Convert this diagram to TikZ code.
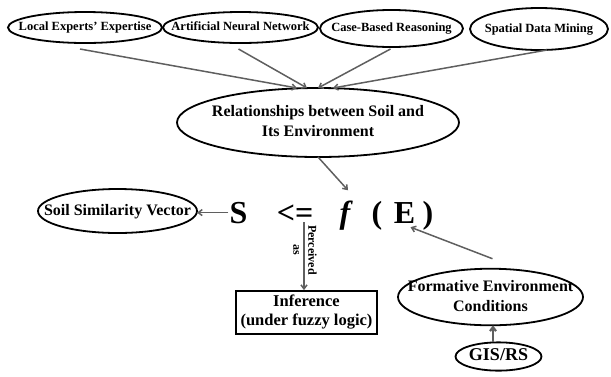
\documentclass[tikz,border=0pt]{standalone}
\usepackage{fontspec}
\setmainfont{Liberation Serif}
\usetikzlibrary{shapes.geometric,arrows.meta}
\definecolor{arrgray}{RGB}{95,95,95}
\newcommand{\zt}[1]{\makebox[0pt]{\begin{tabular}{@{}c@{}}#1\end{tabular}}}
\begin{document}
\begin{tikzpicture}[x=1pt,y=-1pt,
  ell/.style={ellipse, draw, line width=1.8pt, inner sep=0pt, outer sep=0pt},
  sm/.style={font=\bfseries\fontsize{12.5}{15}\selectfont},
  md/.style={font=\bfseries\fontsize{16}{20}\selectfont},
  big/.style={font=\bfseries\fontsize{32}{36}\selectfont, inner sep=0pt, anchor=base},
  arr/.style={draw=arrgray, line width=1.5pt, -{Straight Barb[length=4pt,width=6pt]}},
]
\useasboundingbox (0,0) rectangle (611,376);
% top sources
\node[ell,sm,minimum width=154,minimum height=31] (lee) at (85,27.5) {\zt{Local Experts' Expertise}};
\node[ell,sm,minimum width=155,minimum height=31] (ann) at (240.5,27.5) {\zt{Artificial Neural Network}};
\node[ell,sm,minimum width=143,minimum height=37] (cbr) at (391.5,28.5) {\zt{Case-Based Reasoning}};
\node[ell,sm,minimum width=138,minimum height=42] (sdm) at (539,29) {\zt{Spatial Data Mining}};
% relationship
\node[ell,md,minimum width=282,minimum height=69] (rel) at (318,122.5) {\zt{Relationships between Soil and\\Its Environment}};
% formula
\node[big] (S) at (238.5,223) {S};
\node[big] (leq) at (295,223) {<=};
\node[big] (f) at (345,223) {\itshape f};
\node[big] (lp) at (377,223) {(};
\node[big] (E) at (404.5,223) {E};
\node[big] (rp) at (428,223) {)};
% others
\node[ell,md,minimum width=159,minimum height=44] (ssv) at (117.5,211) {\zt{Soil Similarity Vector}};
\node[draw,line width=1.8pt,inner sep=0pt,minimum width=141,minimum height=43,font=\bfseries\fontsize{16.5}{19}\selectfont] (inf) at (306.5,312.5) {\zt{Inference\\(under fuzzy logic)}};
\node[ell,md,minimum width=185,minimum height=50] (fec) at (490.5,297) {\zt{Formative Environment\\Conditions}};
\node[ell,font=\bfseries\fontsize{18}{20}\selectfont,minimum width=86,minimum height=28] (gis) at (498.5,356.5) {\zt{GIS/RS}};
% connectors
\draw[arr] ([shift={(-5pt,-6pt)}]lee.south) -- ([xshift=-21pt]rel.north);
\draw[arr] ([shift={(-2pt,-6pt)}]ann.south) -- ([xshift=-11pt]rel.north);
\draw[arr] ([shift={(-1pt,-2pt)}]cbr.south) -- (rel.north);
\draw[arr] ([xshift=8pt]sdm.south) -- ([xshift=15pt]rel.north);
\draw[arr] (rel.south) -- ([shift={(3pt,10pt)}]f.north);
\draw[arr] ([xshift=-1pt]S.west) -- (S.west -| ssv.east);
\coordinate (pv) at (304,222);
\draw[arr] (pv) -- (pv |- inf.north);
\node[rotate=-90,font=\bfseries\fontsize{12}{15}\selectfont,align=center,inner sep=0pt] (pvl) at (305,250) {Perceived\\as};
\draw[arr] ([shift={(2pt,10pt)}]fec.north) -- ([shift={(6pt,-4pt)}]E.south);
\draw[arr,line width=2.2pt] ([xshift=-5.5pt]gis.north) -- ([xshift=-5.5pt]gis.north |- fec.south);
\end{tikzpicture}
\end{document}
